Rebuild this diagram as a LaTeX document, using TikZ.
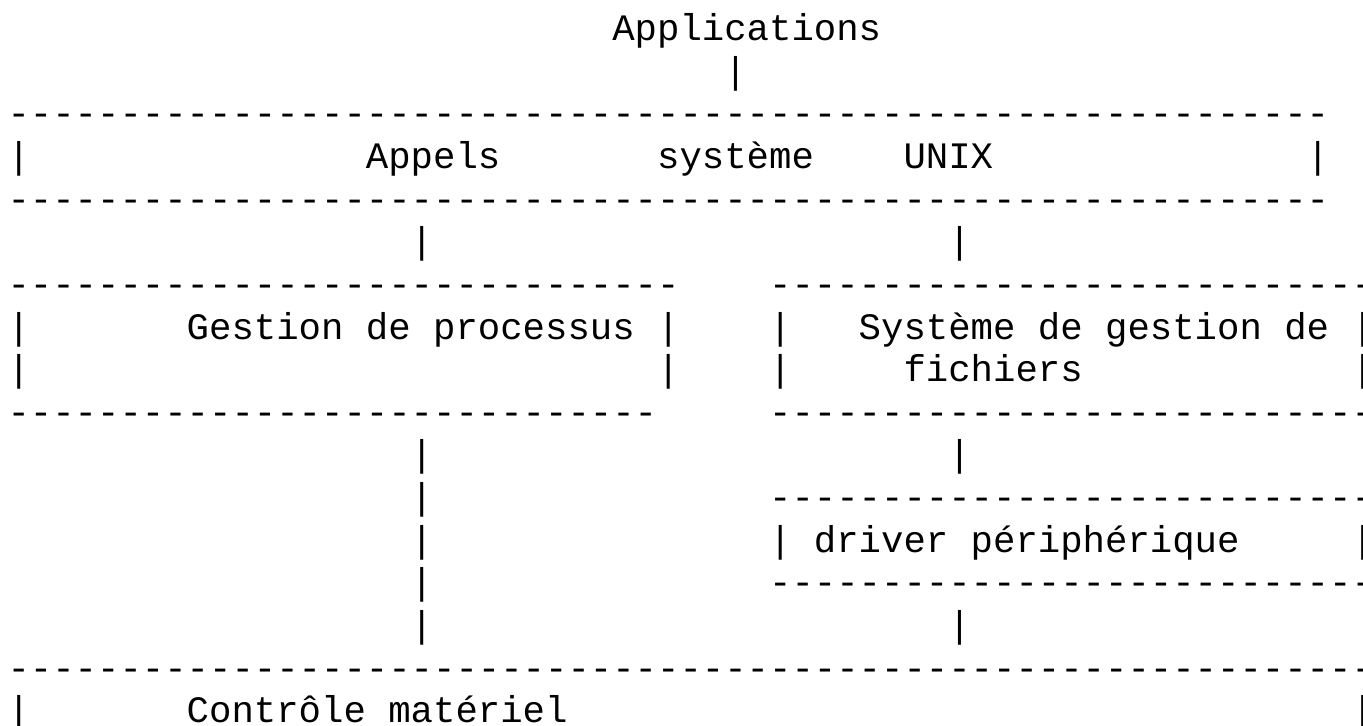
\documentclass[tikz,border=0pt]{standalone}
\usepackage{fontspec}
\setmonofont{Liberation Mono}
\usepackage{tikz}

\newcommand{\asciifont}{\ttfamily\fontsize{28}{34}\selectfont}
\newcommand{\dashrun}[1]{\foreach \k in {1,...,#1}{-}}

\begin{document}
\begin{tikzpicture}[x=16.8pt, y=-31.965pt,
  ascii/.style={anchor=base west, inner sep=0pt, outer sep=0pt, font=\asciifont}]
\useasboundingbox (-0.335,-0.955) rectangle (60.513,16.079);
\clip (-0.335,-0.955) rectangle (60.513,16.079);

% Top: applications
\node[ascii] (apps) at (27,0) {Applications};
\node[ascii] (appsbar) at (32,1) {|};

% System call layer
\node[ascii] (calltop) at (0,2) {\dashrun{59}};
\node[ascii] (callleft) at (0,3) {|};
\node[ascii] (appels) at (16,3) {Appels};
\node[ascii] (systeme) at (29,3) {système};
\node[ascii] (unix) at (40,3) {UNIX};
\node[ascii] (callright) at (58,3) {|};
\node[ascii] (callbot) at (0,4) {\dashrun{59}};
\node[ascii] (procbar) at (18,5) {|};
\node[ascii] (fsbar) at (42,5) {|};

% Left box: process management
\node[ascii] (proctop) at (0,6) {\dashrun{30}};
\foreach \r in {7,8} {
  \node[ascii] (procleft\r) at (0,\r) {|};
  \node[ascii] (procright\r) at (29,\r) {|};
}
\node[ascii] (proc) at (8,7) {Gestion de processus};
\node[ascii] (procbot) at (0,9) {\dashrun{29}};
\foreach \r in {10,...,14}
  \node[ascii] (hwbar\r) at (18,\r) {|};

% Right box: file system
\node[ascii] (fstop) at (34,6) {\dashrun{27}};
\foreach \r in {7,8} {
  \node[ascii] (fsleft\r) at (34,\r) {|};
  \node[ascii] (fsright\r) at (60,\r) {|};
}
\node[ascii] (fs) at (38,7) {Système de gestion de};
\node[ascii] (fsnext) at (40,8) {fichiers};
\node[ascii] (fsbot) at (34,9) {\dashrun{27}};
\node[ascii] (drvbar) at (42,10) {|};

% Device driver
\node[ascii] (drvtop) at (34,11) {\dashrun{27}};
\node[ascii] (drvleft) at (34,12) {|};
\node[ascii] (drv) at (36,12) {driver périphérique};
\node[ascii] (drvright) at (60,12) {|};
\node[ascii] (drvbot) at (34,13) {\dashrun{27}};
\node[ascii] (hwbar) at (42,14) {|};

% Bottom: hardware control
\node[ascii] (hwtop) at (0,15) {\dashrun{61}};
\node[ascii] (hwleft) at (0,16) {|};
\node[ascii] (hw) at (8,16) {Contrôle matériel};
\node[ascii] (hwright) at (60,16) {|};

\end{tikzpicture}
\end{document}
